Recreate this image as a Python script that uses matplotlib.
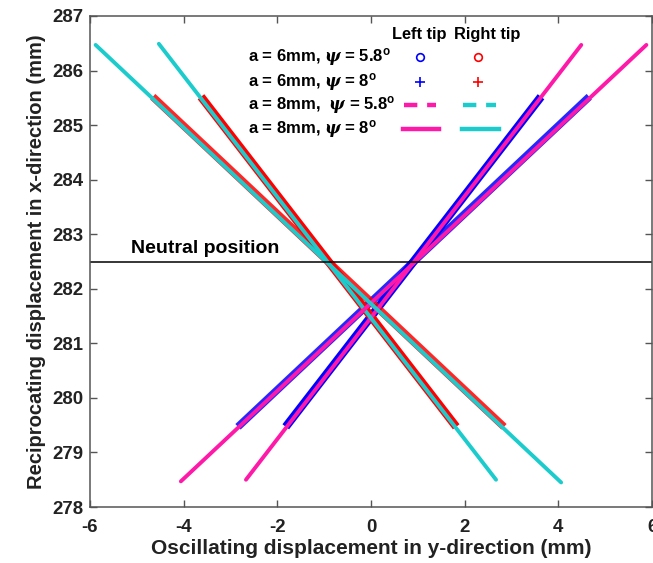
import matplotlib.pyplot as plt
from matplotlib.lines import Line2D

plt.rcParams["font.family"] = ["Liberation Sans", "DejaVu Sans"]
plt.rcParams["font.weight"] = "bold"
plt.rcParams["axes.unicode_minus"] = False
plt.rcParams["mathtext.fontset"] = "custom"
plt.rcParams["mathtext.rm"] = "Liberation Sans:bold"
plt.rcParams["mathtext.bf"] = "Liberation Sans:bold"
plt.rcParams["mathtext.it"] = "DejaVu Serif:italic:bold"

# ── Trayectorias de las puntas (extremos, mm) ────────────
# punta izquierda: (y-oscilación, x-reciprocante)
left_a6_psi58_x = [-1.82, 3.63]
left_a6_psi58_y = [279.47, 285.52]
left_a6_psi8_x = [-2.84, 4.66]
left_a6_psi8_y = [279.47, 285.52]
left_a8_psi58_x = [-2.67, 4.49]
left_a8_psi58_y = [278.50, 286.47]
left_a8_psi8_x = [-4.06, 5.88]
left_a8_psi8_y = [278.47, 286.47]

# punta derecha (simétrica)
right_a6_psi58_x = [1.82, -3.63]
right_a6_psi58_y = [279.47, 285.52]
right_a6_psi8_x = [2.84, -4.66]
right_a6_psi8_y = [279.47, 285.52]
right_a8_psi58_x = [2.67, -4.53]
right_a8_psi58_y = [278.50, 286.49]
right_a8_psi8_x = [4.06, -5.88]
right_a8_psi8_y = [278.45, 286.47]

NEUTRAL_X = 282.5

row_labels = [
    r"a = 6mm, $\psi$ = 5.8$^{\rm o}$",
    r"a = 6mm, $\psi$ = 8$^{\rm o}$",
    r"a = 8mm,  $\psi$ = 5.8$^{\rm o}$",
    r"a = 8mm, $\psi$ = 8$^{\rm o}$",
]

BLUE = "#0000ff"
RED = "#ff0000"
MAGENTA = "#ff19a8"
CYAN = "#1ccccc"

fig = plt.figure(figsize=(6.53, 5.63), dpi=100)
ax = fig.add_axes([90 / 653, 56 / 563, 562 / 653, 491 / 563])

# ── Curvas ────────────────────────────────────────────────
ax.plot(left_a6_psi58_x, left_a6_psi58_y, color=BLUE, lw=6, solid_capstyle="butt")
ax.plot(left_a6_psi8_x, left_a6_psi8_y, color=BLUE, lw=5.5, alpha=0.85, solid_capstyle="butt")
ax.plot(right_a6_psi58_x, right_a6_psi58_y, color=RED, lw=6, solid_capstyle="butt")
ax.plot(right_a6_psi8_x, right_a6_psi8_y, color=RED, lw=5.5, alpha=0.85, solid_capstyle="butt")

ax.plot(left_a8_psi58_x, left_a8_psi58_y, color=MAGENTA, lw=2.8, solid_capstyle="round")
ax.plot(right_a8_psi58_x, right_a8_psi58_y, color=CYAN, lw=2.8, solid_capstyle="round")
ax.plot(left_a8_psi8_x, left_a8_psi8_y, color=MAGENTA, lw=2.8, solid_capstyle="round")
ax.plot(right_a8_psi8_x, right_a8_psi8_y, color=CYAN, lw=2.8, solid_capstyle="round")

# posición neutra
ax.axhline(NEUTRAL_X, color="black", lw=1.1)
ax.text(-3.53, 282.73, "Neutral position", fontsize=14, fontweight="bold",
        ha="center", va="center")

# ── Leyenda tipo tabla ────────────────────────────────────
ax.text(1.02, 286.67, "Left tip", fontsize=11.8, ha="center", va="center")
ax.text(2.48, 286.67, "Right tip", fontsize=11.8, ha="center", va="center")

row_y = [286.25, 285.79, 285.37, 284.93]
for lbl, yy in zip(row_labels, row_y):
    ax.text(-2.63, yy, lbl, fontsize=12, ha="left", va="center")

ax.plot([1.05], [row_y[0]], "o", color=BLUE, mfc="none", ms=5.5, mew=1.2)
ax.plot([2.29], [row_y[0]], "o", color=RED, mfc="none", ms=5.5, mew=1.2)
ax.plot([1.05], [row_y[1]], "+", color=BLUE, ms=7.5, mew=1.2)
ax.plot([2.29], [row_y[1]], "+", color=RED, ms=7.5, mew=1.2)
ax.add_line(Line2D([0.70, 1.39], [row_y[2]] * 2, color=MAGENTA, lw=3.2, dashes=(3.0, 2.2)))
ax.add_line(Line2D([1.97, 2.67], [row_y[2]] * 2, color=CYAN, lw=3.2, dashes=(3.0, 2.2)))
ax.add_line(Line2D([0.68, 1.45], [row_y[3]] * 2, color=MAGENTA, lw=3.2))
ax.add_line(Line2D([1.94, 2.73], [row_y[3]] * 2, color=CYAN, lw=3.2))

# ── Ejes ──────────────────────────────────────────────────
ax.set_xlim(-6, 6)
ax.set_ylim(278, 287)
ax.set_xticks(range(-6, 7, 2))
ax.set_yticks(range(278, 288))
ax.tick_params(direction="in", top=True, right=True, length=5, width=1,
               color="#555555", labelsize=13.4, labelcolor="#222222")
ax.tick_params(axis="y", pad=5)
ax.tick_params(axis="x", pad=9)
for lab in ax.get_xticklabels() + ax.get_yticklabels():
    lab.set_fontweight("bold")
for sp in ax.spines.values():
    sp.set_color("#555555")
    sp.set_linewidth(1.1)

ax.set_xlabel("Oscillating displacement in y-direction (mm)", fontsize=15,
              fontweight="bold", color="#222222", labelpad=2)
ax.set_ylabel("Reciprocating displacement in x-direction (mm)", fontsize=14.5,
              fontweight="bold", color="#222222", labelpad=4)

fig.savefig("out.png", dpi=100)
